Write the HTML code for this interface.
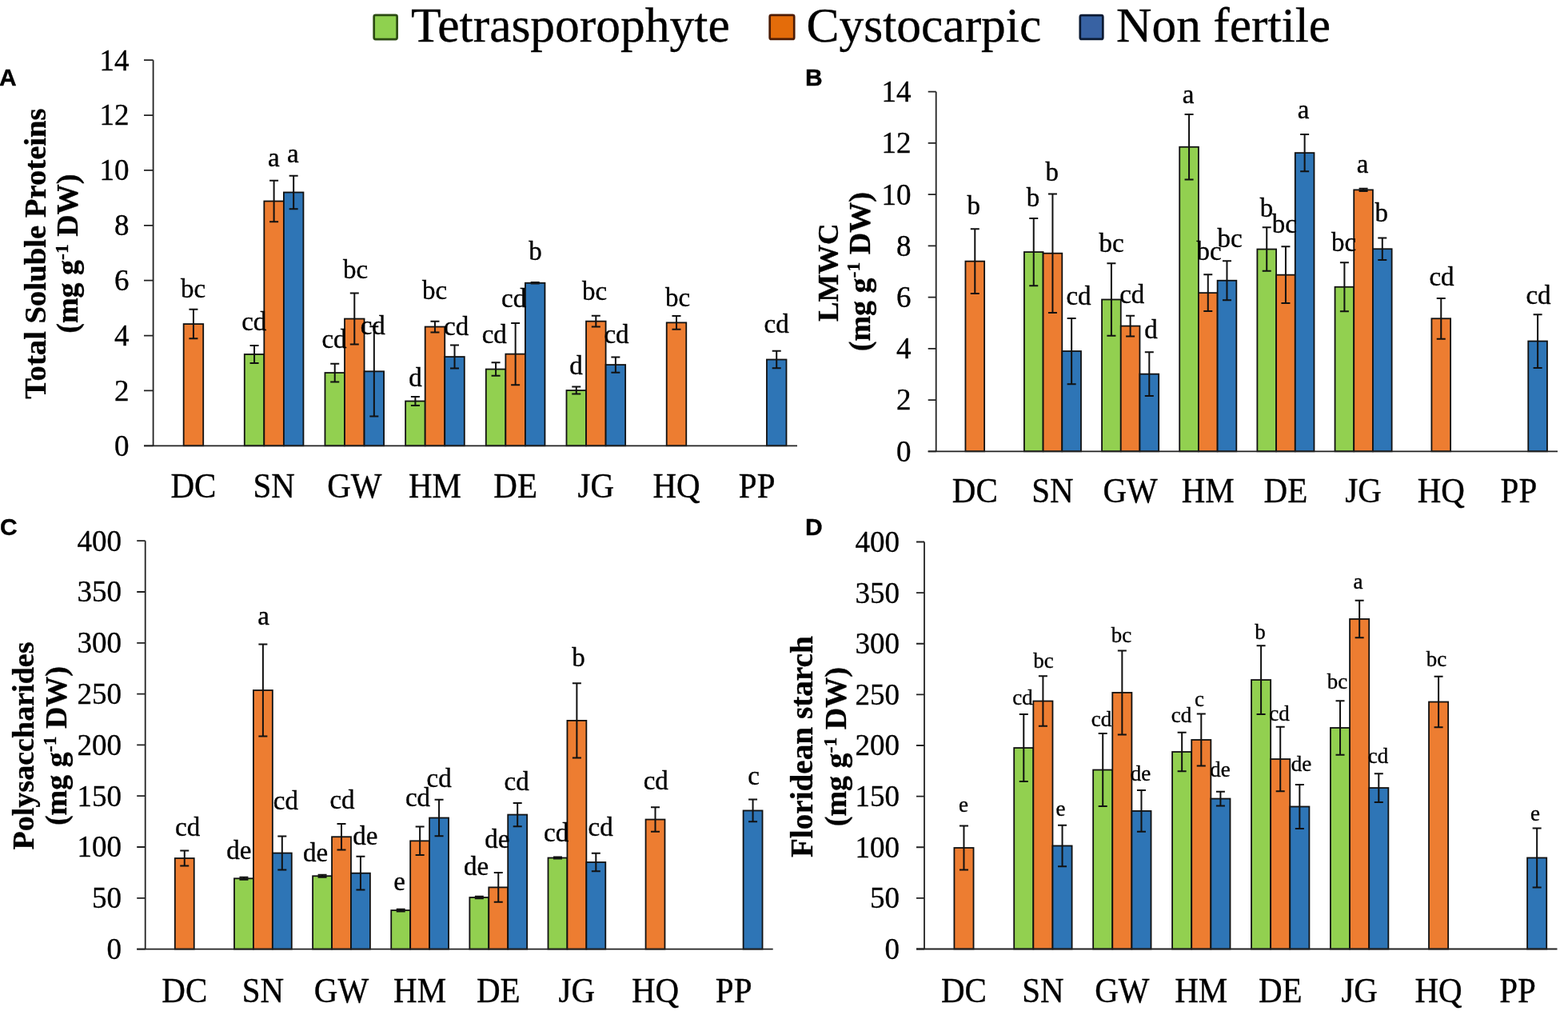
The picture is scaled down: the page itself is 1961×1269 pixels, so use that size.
<!DOCTYPE html>
<html><head><meta charset="utf-8"><title>Figure</title>
<style>
html,body{margin:0;padding:0;background:#fff;}
body{width:1961px;height:1269px;overflow:hidden;}
svg{display:block;}
svg text{fill:#000;stroke:#000;stroke-width:0.35px;}
</style></head><body>
<svg width="1961" height="1269" viewBox="0 0 1961 1269">
<rect width="1961" height="1269" fill="#fff"/>
<rect x="229.66" y="405.09" width="24.55" height="152.21" fill="#ed7d31" stroke="#111" stroke-width="1.8"/>
<rect x="305.78" y="442.97" width="24.55" height="114.33" fill="#92d050" stroke="#111" stroke-width="1.8"/>
<rect x="330.34" y="251.51" width="24.55" height="305.79" fill="#ed7d31" stroke="#111" stroke-width="1.8"/>
<rect x="354.89" y="240.49" width="24.55" height="316.81" fill="#2e75b6" stroke="#111" stroke-width="1.8"/>
<rect x="406.46" y="466.05" width="24.55" height="91.25" fill="#92d050" stroke="#111" stroke-width="1.8"/>
<rect x="431.01" y="398.55" width="24.55" height="158.75" fill="#ed7d31" stroke="#111" stroke-width="1.8"/>
<rect x="455.56" y="464.32" width="24.55" height="92.98" fill="#2e75b6" stroke="#111" stroke-width="1.8"/>
<rect x="507.13" y="501.51" width="24.55" height="55.79" fill="#92d050" stroke="#111" stroke-width="1.8"/>
<rect x="531.69" y="408.54" width="24.55" height="148.76" fill="#ed7d31" stroke="#111" stroke-width="1.8"/>
<rect x="556.24" y="446.07" width="24.55" height="111.23" fill="#2e75b6" stroke="#111" stroke-width="1.8"/>
<rect x="607.81" y="461.57" width="24.55" height="95.73" fill="#92d050" stroke="#111" stroke-width="1.8"/>
<rect x="632.36" y="442.63" width="24.55" height="114.67" fill="#ed7d31" stroke="#111" stroke-width="1.8"/>
<rect x="656.91" y="353.78" width="24.55" height="203.52" fill="#2e75b6" stroke="#111" stroke-width="1.8"/>
<rect x="708.48" y="488.08" width="24.55" height="69.22" fill="#92d050" stroke="#111" stroke-width="1.8"/>
<rect x="733.04" y="401.65" width="24.55" height="155.65" fill="#ed7d31" stroke="#111" stroke-width="1.8"/>
<rect x="757.59" y="456.06" width="24.55" height="101.24" fill="#2e75b6" stroke="#111" stroke-width="1.8"/>
<rect x="833.71" y="403.37" width="24.55" height="153.93" fill="#ed7d31" stroke="#111" stroke-width="1.8"/>
<rect x="958.94" y="449.52" width="24.55" height="107.78" fill="#2e75b6" stroke="#111" stroke-width="1.8"/>
<path d="M241.94 386.84V423.35M236.44 386.84H247.44M236.44 423.35H247.44" stroke="#111" stroke-width="2" fill="none"/>
<path d="M318.06 431.95V453.99M312.56 431.95H323.56M312.56 453.99H323.56" stroke="#111" stroke-width="2" fill="none"/>
<path d="M342.61 225.68V277.34M337.11 225.68H348.11M337.11 277.34H348.11" stroke="#111" stroke-width="2" fill="none"/>
<path d="M367.17 219.83V261.15M361.67 219.83H372.67M361.67 261.15H372.67" stroke="#111" stroke-width="2" fill="none"/>
<path d="M418.73 454.68V477.41M413.23 454.68H424.23M413.23 477.41H424.23" stroke="#111" stroke-width="2" fill="none"/>
<path d="M443.29 366.53V430.58M437.79 366.53H448.79M437.79 430.58H448.79" stroke="#111" stroke-width="2" fill="none"/>
<path d="M467.84 408.19V520.45M462.34 408.19H473.34M462.34 520.45H473.34" stroke="#111" stroke-width="2" fill="none"/>
<path d="M519.41 496.00V507.02M513.91 496.00H524.91M513.91 507.02H524.91" stroke="#111" stroke-width="2" fill="none"/>
<path d="M543.96 401.65V415.42M538.46 401.65H549.46M538.46 415.42H549.46" stroke="#111" stroke-width="2" fill="none"/>
<path d="M568.52 431.61V460.54M563.02 431.61H574.02M563.02 460.54H574.02" stroke="#111" stroke-width="2" fill="none"/>
<path d="M620.08 453.30V469.83M614.58 453.30H625.58M614.58 469.83H625.58" stroke="#111" stroke-width="2" fill="none"/>
<path d="M644.64 404.06V481.20M639.14 404.06H650.14M639.14 481.20H650.14" stroke="#111" stroke-width="2" fill="none"/>
<path d="M669.19 353.10V354.47M663.69 353.10H674.69M663.69 354.47H674.69" stroke="#111" stroke-width="2" fill="none"/>
<path d="M720.76 483.61V492.56M715.26 483.61H726.26M715.26 492.56H726.26" stroke="#111" stroke-width="2" fill="none"/>
<path d="M745.31 394.76V408.54M739.81 394.76H750.81M739.81 408.54H750.81" stroke="#111" stroke-width="2" fill="none"/>
<path d="M769.87 446.42V465.70M764.37 446.42H775.37M764.37 465.70H775.37" stroke="#111" stroke-width="2" fill="none"/>
<path d="M845.99 395.11V411.64M840.49 395.11H851.49M840.49 411.64H851.49" stroke="#111" stroke-width="2" fill="none"/>
<path d="M971.22 438.84V460.19M965.72 438.84H976.72M965.72 460.19H976.72" stroke="#111" stroke-width="2" fill="none"/>
<path d="M191.60 75.20V557.30M180.00 557.30H997.00" stroke="#222" stroke-width="1.8" fill="none"/>
<path d="M180.00 557.30H191.60M180.00 488.43H191.60M180.00 419.56H191.60M180.00 350.69H191.60M180.00 281.81H191.60M180.00 212.94H191.60M180.00 144.07H191.60M180.00 75.20H191.60" stroke="#222" stroke-width="1.8" fill="none"/>
<text x="161.50" y="569.69" font-size="37" text-anchor="end" font-family="'Liberation Serif', 'Times New Roman', serif">0</text>
<text x="161.50" y="500.82" font-size="37" text-anchor="end" font-family="'Liberation Serif', 'Times New Roman', serif">2</text>
<text x="161.50" y="431.95" font-size="37" text-anchor="end" font-family="'Liberation Serif', 'Times New Roman', serif">4</text>
<text x="161.50" y="363.08" font-size="37" text-anchor="end" font-family="'Liberation Serif', 'Times New Roman', serif">6</text>
<text x="161.50" y="294.21" font-size="37" text-anchor="end" font-family="'Liberation Serif', 'Times New Roman', serif">8</text>
<text x="161.50" y="225.34" font-size="37" text-anchor="end" font-family="'Liberation Serif', 'Times New Roman', serif">10</text>
<text x="161.50" y="156.47" font-size="37" text-anchor="end" font-family="'Liberation Serif', 'Times New Roman', serif">12</text>
<text x="161.50" y="87.59" font-size="37" text-anchor="end" font-family="'Liberation Serif', 'Times New Roman', serif">14</text>
<text transform="translate(241.94,622.20) scale(1,1.09)" font-size="41" text-anchor="middle" font-family="'Liberation Serif', 'Times New Roman', serif">DC</text>
<text transform="translate(342.61,622.20) scale(1,1.09)" font-size="41" text-anchor="middle" font-family="'Liberation Serif', 'Times New Roman', serif">SN</text>
<text transform="translate(443.29,622.20) scale(1,1.09)" font-size="41" text-anchor="middle" font-family="'Liberation Serif', 'Times New Roman', serif">GW</text>
<text transform="translate(543.96,622.20) scale(1,1.09)" font-size="41" text-anchor="middle" font-family="'Liberation Serif', 'Times New Roman', serif">HM</text>
<text transform="translate(644.64,622.20) scale(1,1.09)" font-size="41" text-anchor="middle" font-family="'Liberation Serif', 'Times New Roman', serif">DE</text>
<text transform="translate(745.31,622.20) scale(1,1.09)" font-size="41" text-anchor="middle" font-family="'Liberation Serif', 'Times New Roman', serif">JG</text>
<text transform="translate(845.99,622.20) scale(1,1.09)" font-size="41" text-anchor="middle" font-family="'Liberation Serif', 'Times New Roman', serif">HQ</text>
<text transform="translate(946.66,622.20) scale(1,1.09)" font-size="41" text-anchor="middle" font-family="'Liberation Serif', 'Times New Roman', serif">PP</text>
<text x="241.70" y="371.50" font-size="33" text-anchor="middle" font-family="'Liberation Serif', 'Times New Roman', serif">bc</text>
<text x="317.80" y="412.50" font-size="33" text-anchor="middle" font-family="'Liberation Serif', 'Times New Roman', serif">cd</text>
<text x="342.40" y="207.50" font-size="33" text-anchor="middle" font-family="'Liberation Serif', 'Times New Roman', serif">a</text>
<text x="366.40" y="203.40" font-size="33" text-anchor="middle" font-family="'Liberation Serif', 'Times New Roman', serif">a</text>
<text x="418.00" y="435.00" font-size="33" text-anchor="middle" font-family="'Liberation Serif', 'Times New Roman', serif">cd</text>
<text x="444.60" y="348.30" font-size="33" text-anchor="middle" font-family="'Liberation Serif', 'Times New Roman', serif">bc</text>
<text x="466.30" y="418.00" font-size="33" text-anchor="middle" font-family="'Liberation Serif', 'Times New Roman', serif">cd</text>
<text x="519.40" y="482.70" font-size="33" text-anchor="middle" font-family="'Liberation Serif', 'Times New Roman', serif">d</text>
<text x="543.70" y="374.00" font-size="33" text-anchor="middle" font-family="'Liberation Serif', 'Times New Roman', serif">bc</text>
<text x="570.70" y="419.20" font-size="33" text-anchor="middle" font-family="'Liberation Serif', 'Times New Roman', serif">cd</text>
<text x="618.30" y="429.00" font-size="33" text-anchor="middle" font-family="'Liberation Serif', 'Times New Roman', serif">cd</text>
<text x="642.70" y="383.60" font-size="33" text-anchor="middle" font-family="'Liberation Serif', 'Times New Roman', serif">cd</text>
<text x="669.40" y="325.00" font-size="33" text-anchor="middle" font-family="'Liberation Serif', 'Times New Roman', serif">b</text>
<text x="720.40" y="468.00" font-size="33" text-anchor="middle" font-family="'Liberation Serif', 'Times New Roman', serif">d</text>
<text x="743.60" y="375.00" font-size="33" text-anchor="middle" font-family="'Liberation Serif', 'Times New Roman', serif">bc</text>
<text x="771.00" y="429.00" font-size="33" text-anchor="middle" font-family="'Liberation Serif', 'Times New Roman', serif">cd</text>
<text x="847.50" y="382.70" font-size="33" text-anchor="middle" font-family="'Liberation Serif', 'Times New Roman', serif">bc</text>
<text x="971.20" y="415.60" font-size="33" text-anchor="middle" font-family="'Liberation Serif', 'Times New Roman', serif">cd</text>
<text transform="translate(57.00,317.00) rotate(-90)" font-size="38.7" font-weight="bold" text-anchor="middle" font-family="'Liberation Serif', 'Times New Roman', serif">Total Soluble Proteins</text>
<text transform="translate(97.30,317.20) rotate(-90)" font-size="38" font-weight="bold" text-anchor="middle" font-family="'Liberation Serif', 'Times New Roman', serif">(mg g<tspan font-size="23.6" dy="-12.5">-1</tspan><tspan dy="12.5"> DW)</tspan></text>
<text x="-0.90" y="106.80" font-size="30" font-weight="bold" font-family="'Liberation Sans', Arial, sans-serif">A</text>
<rect x="1207.43" y="326.65" width="23.70" height="237.65" fill="#ed7d31" stroke="#111" stroke-width="1.8"/>
<rect x="1280.90" y="315.09" width="23.70" height="249.21" fill="#92d050" stroke="#111" stroke-width="1.8"/>
<rect x="1304.59" y="316.70" width="23.70" height="247.60" fill="#ed7d31" stroke="#111" stroke-width="1.8"/>
<rect x="1328.29" y="439.05" width="23.70" height="125.25" fill="#2e75b6" stroke="#111" stroke-width="1.8"/>
<rect x="1378.06" y="374.50" width="23.70" height="189.80" fill="#92d050" stroke="#111" stroke-width="1.8"/>
<rect x="1401.76" y="407.58" width="23.70" height="156.72" fill="#ed7d31" stroke="#111" stroke-width="1.8"/>
<rect x="1425.46" y="467.64" width="23.70" height="96.66" fill="#2e75b6" stroke="#111" stroke-width="1.8"/>
<rect x="1475.22" y="183.75" width="23.70" height="380.55" fill="#92d050" stroke="#111" stroke-width="1.8"/>
<rect x="1498.92" y="366.15" width="23.70" height="198.15" fill="#ed7d31" stroke="#111" stroke-width="1.8"/>
<rect x="1522.62" y="350.74" width="23.70" height="213.56" fill="#2e75b6" stroke="#111" stroke-width="1.8"/>
<rect x="1572.38" y="311.56" width="23.70" height="252.74" fill="#92d050" stroke="#111" stroke-width="1.8"/>
<rect x="1596.08" y="343.67" width="23.70" height="220.63" fill="#ed7d31" stroke="#111" stroke-width="1.8"/>
<rect x="1619.78" y="191.13" width="23.70" height="373.17" fill="#2e75b6" stroke="#111" stroke-width="1.8"/>
<rect x="1669.55" y="358.77" width="23.70" height="205.53" fill="#92d050" stroke="#111" stroke-width="1.8"/>
<rect x="1693.24" y="237.38" width="23.70" height="326.92" fill="#ed7d31" stroke="#111" stroke-width="1.8"/>
<rect x="1716.94" y="311.24" width="23.70" height="253.06" fill="#2e75b6" stroke="#111" stroke-width="1.8"/>
<rect x="1790.41" y="398.27" width="23.70" height="166.03" fill="#ed7d31" stroke="#111" stroke-width="1.8"/>
<rect x="1911.27" y="426.53" width="23.70" height="137.77" fill="#2e75b6" stroke="#111" stroke-width="1.8"/>
<path d="M1219.28 286.19V367.12M1213.78 286.19H1224.78M1213.78 367.12H1224.78" stroke="#111" stroke-width="2" fill="none"/>
<path d="M1292.75 273.02V357.16M1287.25 273.02H1298.25M1287.25 357.16H1298.25" stroke="#111" stroke-width="2" fill="none"/>
<path d="M1316.44 242.51V390.88M1310.94 242.51H1321.94M1310.94 390.88H1321.94" stroke="#111" stroke-width="2" fill="none"/>
<path d="M1340.14 397.95V480.16M1334.64 397.95H1345.64M1334.64 480.16H1345.64" stroke="#111" stroke-width="2" fill="none"/>
<path d="M1389.91 329.22V419.79M1384.41 329.22H1395.41M1384.41 419.79H1395.41" stroke="#111" stroke-width="2" fill="none"/>
<path d="M1413.61 394.74V420.43M1408.11 394.74H1419.11M1408.11 420.43H1419.11" stroke="#111" stroke-width="2" fill="none"/>
<path d="M1437.30 440.34V494.93M1431.80 440.34H1442.80M1431.80 494.93H1442.80" stroke="#111" stroke-width="2" fill="none"/>
<path d="M1487.07 142.96V224.53M1481.57 142.96H1492.57M1481.57 224.53H1492.57" stroke="#111" stroke-width="2" fill="none"/>
<path d="M1510.77 343.35V388.96M1505.27 343.35H1516.27M1505.27 388.96H1516.27" stroke="#111" stroke-width="2" fill="none"/>
<path d="M1534.47 326.33V375.15M1528.97 326.33H1539.97M1528.97 375.15H1539.97" stroke="#111" stroke-width="2" fill="none"/>
<path d="M1584.23 284.26V338.86M1578.73 284.26H1589.73M1578.73 338.86H1589.73" stroke="#111" stroke-width="2" fill="none"/>
<path d="M1607.93 308.35V379.00M1602.43 308.35H1613.43M1602.43 379.00H1613.43" stroke="#111" stroke-width="2" fill="none"/>
<path d="M1631.63 168.01V214.25M1626.13 168.01H1637.13M1626.13 214.25H1637.13" stroke="#111" stroke-width="2" fill="none"/>
<path d="M1681.40 328.26V389.28M1675.90 328.26H1686.90M1675.90 389.28H1686.90" stroke="#111" stroke-width="2" fill="none"/>
<path d="M1705.09 235.77V238.98M1699.59 235.77H1710.59M1699.59 238.98H1710.59" stroke="#111" stroke-width="2" fill="none"/>
<path d="M1728.79 297.43V325.05M1723.29 297.43H1734.29M1723.29 325.05H1734.29" stroke="#111" stroke-width="2" fill="none"/>
<path d="M1802.26 372.90V423.64M1796.76 372.90H1807.76M1796.76 423.64H1807.76" stroke="#111" stroke-width="2" fill="none"/>
<path d="M1923.12 393.13V459.93M1917.62 393.13H1928.62M1917.62 459.93H1928.62" stroke="#111" stroke-width="2" fill="none"/>
<path d="M1170.70 114.70V564.30M1160.70 564.30H1948.00" stroke="#222" stroke-width="1.8" fill="none"/>
<path d="M1160.70 564.30H1170.70M1160.70 500.07H1170.70M1160.70 435.84H1170.70M1160.70 371.61H1170.70M1160.70 307.39H1170.70M1160.70 243.16H1170.70M1160.70 178.93H1170.70M1160.70 114.70H1170.70" stroke="#222" stroke-width="1.8" fill="none"/>
<text x="1139.50" y="576.69" font-size="37" text-anchor="end" font-family="'Liberation Serif', 'Times New Roman', serif">0</text>
<text x="1139.50" y="512.47" font-size="37" text-anchor="end" font-family="'Liberation Serif', 'Times New Roman', serif">2</text>
<text x="1139.50" y="448.24" font-size="37" text-anchor="end" font-family="'Liberation Serif', 'Times New Roman', serif">4</text>
<text x="1139.50" y="384.01" font-size="37" text-anchor="end" font-family="'Liberation Serif', 'Times New Roman', serif">6</text>
<text x="1139.50" y="319.78" font-size="37" text-anchor="end" font-family="'Liberation Serif', 'Times New Roman', serif">8</text>
<text x="1139.50" y="255.55" font-size="37" text-anchor="end" font-family="'Liberation Serif', 'Times New Roman', serif">10</text>
<text x="1139.50" y="191.32" font-size="37" text-anchor="end" font-family="'Liberation Serif', 'Times New Roman', serif">12</text>
<text x="1139.50" y="127.09" font-size="37" text-anchor="end" font-family="'Liberation Serif', 'Times New Roman', serif">14</text>
<text transform="translate(1219.28,628.30) scale(1,1.09)" font-size="41" text-anchor="middle" font-family="'Liberation Serif', 'Times New Roman', serif">DC</text>
<text transform="translate(1316.44,628.30) scale(1,1.09)" font-size="41" text-anchor="middle" font-family="'Liberation Serif', 'Times New Roman', serif">SN</text>
<text transform="translate(1413.61,628.30) scale(1,1.09)" font-size="41" text-anchor="middle" font-family="'Liberation Serif', 'Times New Roman', serif">GW</text>
<text transform="translate(1510.77,628.30) scale(1,1.09)" font-size="41" text-anchor="middle" font-family="'Liberation Serif', 'Times New Roman', serif">HM</text>
<text transform="translate(1607.93,628.30) scale(1,1.09)" font-size="41" text-anchor="middle" font-family="'Liberation Serif', 'Times New Roman', serif">DE</text>
<text transform="translate(1705.09,628.30) scale(1,1.09)" font-size="41" text-anchor="middle" font-family="'Liberation Serif', 'Times New Roman', serif">JG</text>
<text transform="translate(1802.26,628.30) scale(1,1.09)" font-size="41" text-anchor="middle" font-family="'Liberation Serif', 'Times New Roman', serif">HQ</text>
<text transform="translate(1899.42,628.30) scale(1,1.09)" font-size="41" text-anchor="middle" font-family="'Liberation Serif', 'Times New Roman', serif">PP</text>
<text x="1217.80" y="268.00" font-size="33" text-anchor="middle" font-family="'Liberation Serif', 'Times New Roman', serif">b</text>
<text x="1292.00" y="258.00" font-size="33" text-anchor="middle" font-family="'Liberation Serif', 'Times New Roman', serif">b</text>
<text x="1315.80" y="226.00" font-size="33" text-anchor="middle" font-family="'Liberation Serif', 'Times New Roman', serif">b</text>
<text x="1349.00" y="381.00" font-size="33" text-anchor="middle" font-family="'Liberation Serif', 'Times New Roman', serif">cd</text>
<text x="1390.00" y="315.00" font-size="33" text-anchor="middle" font-family="'Liberation Serif', 'Times New Roman', serif">bc</text>
<text x="1415.80" y="378.60" font-size="33" text-anchor="middle" font-family="'Liberation Serif', 'Times New Roman', serif">cd</text>
<text x="1439.60" y="422.60" font-size="33" text-anchor="middle" font-family="'Liberation Serif', 'Times New Roman', serif">d</text>
<text x="1486.00" y="128.50" font-size="33" text-anchor="middle" font-family="'Liberation Serif', 'Times New Roman', serif">a</text>
<text x="1512.00" y="325.00" font-size="33" text-anchor="middle" font-family="'Liberation Serif', 'Times New Roman', serif">bc</text>
<text x="1538.00" y="308.70" font-size="33" text-anchor="middle" font-family="'Liberation Serif', 'Times New Roman', serif">bc</text>
<text x="1584.00" y="270.60" font-size="33" text-anchor="middle" font-family="'Liberation Serif', 'Times New Roman', serif">b</text>
<text x="1606.40" y="291.40" font-size="33" text-anchor="middle" font-family="'Liberation Serif', 'Times New Roman', serif">bc</text>
<text x="1630.00" y="148.30" font-size="33" text-anchor="middle" font-family="'Liberation Serif', 'Times New Roman', serif">a</text>
<text x="1680.70" y="313.70" font-size="33" text-anchor="middle" font-family="'Liberation Serif', 'Times New Roman', serif">bc</text>
<text x="1704.00" y="216.00" font-size="33" text-anchor="middle" font-family="'Liberation Serif', 'Times New Roman', serif">a</text>
<text x="1727.70" y="277.00" font-size="33" text-anchor="middle" font-family="'Liberation Serif', 'Times New Roman', serif">b</text>
<text x="1803.00" y="357.00" font-size="33" text-anchor="middle" font-family="'Liberation Serif', 'Times New Roman', serif">cd</text>
<text x="1924.00" y="379.50" font-size="33" text-anchor="middle" font-family="'Liberation Serif', 'Times New Roman', serif">cd</text>
<text transform="translate(1047.50,340.70) rotate(-90)" font-size="36.8" font-weight="bold" text-anchor="middle" font-family="'Liberation Serif', 'Times New Roman', serif">LMWC</text>
<text transform="translate(1087.50,339.70) rotate(-90)" font-size="38" font-weight="bold" text-anchor="middle" font-family="'Liberation Serif', 'Times New Roman', serif">(mg g<tspan font-size="23.6" dy="-12.5">-1</tspan><tspan dy="12.5"> DW)</tspan></text>
<text x="1007.00" y="107.00" font-size="30" font-weight="bold" font-family="'Liberation Sans', Arial, sans-serif">B</text>
<rect x="218.80" y="1073.04" width="23.93" height="113.56" fill="#ed7d31" stroke="#111" stroke-width="1.8"/>
<rect x="292.99" y="1098.30" width="23.93" height="88.30" fill="#92d050" stroke="#111" stroke-width="1.8"/>
<rect x="316.92" y="863.01" width="23.93" height="323.59" fill="#ed7d31" stroke="#111" stroke-width="1.8"/>
<rect x="340.85" y="1066.53" width="23.93" height="120.07" fill="#2e75b6" stroke="#111" stroke-width="1.8"/>
<rect x="391.11" y="1095.24" width="23.93" height="91.36" fill="#92d050" stroke="#111" stroke-width="1.8"/>
<rect x="415.05" y="1046.24" width="23.93" height="140.36" fill="#ed7d31" stroke="#111" stroke-width="1.8"/>
<rect x="438.98" y="1091.67" width="23.93" height="94.93" fill="#2e75b6" stroke="#111" stroke-width="1.8"/>
<rect x="489.24" y="1138.11" width="23.93" height="48.49" fill="#92d050" stroke="#111" stroke-width="1.8"/>
<rect x="513.17" y="1051.34" width="23.93" height="135.26" fill="#ed7d31" stroke="#111" stroke-width="1.8"/>
<rect x="537.10" y="1022.51" width="23.93" height="164.09" fill="#2e75b6" stroke="#111" stroke-width="1.8"/>
<rect x="587.36" y="1122.03" width="23.93" height="64.57" fill="#92d050" stroke="#111" stroke-width="1.8"/>
<rect x="611.30" y="1109.40" width="23.93" height="77.20" fill="#ed7d31" stroke="#111" stroke-width="1.8"/>
<rect x="635.23" y="1018.55" width="23.93" height="168.05" fill="#2e75b6" stroke="#111" stroke-width="1.8"/>
<rect x="685.49" y="1072.53" width="23.93" height="114.07" fill="#92d050" stroke="#111" stroke-width="1.8"/>
<rect x="709.42" y="900.90" width="23.93" height="285.70" fill="#ed7d31" stroke="#111" stroke-width="1.8"/>
<rect x="733.35" y="1078.01" width="23.93" height="108.59" fill="#2e75b6" stroke="#111" stroke-width="1.8"/>
<rect x="807.55" y="1024.55" width="23.93" height="162.05" fill="#ed7d31" stroke="#111" stroke-width="1.8"/>
<rect x="929.60" y="1013.45" width="23.93" height="173.15" fill="#2e75b6" stroke="#111" stroke-width="1.8"/>
<path d="M230.76 1063.59V1082.48M225.26 1063.59H236.26M225.26 1082.48H236.26" stroke="#111" stroke-width="2" fill="none"/>
<path d="M304.95 1096.77V1099.83M299.45 1096.77H310.45M299.45 1099.83H310.45" stroke="#111" stroke-width="2" fill="none"/>
<path d="M328.89 805.59V920.43M323.39 805.59H334.39M323.39 920.43H334.39" stroke="#111" stroke-width="2" fill="none"/>
<path d="M352.82 1045.47V1087.58M347.32 1045.47H358.32M347.32 1087.58H358.32" stroke="#111" stroke-width="2" fill="none"/>
<path d="M403.08 1093.71V1096.77M397.58 1093.71H408.58M397.58 1096.77H408.58" stroke="#111" stroke-width="2" fill="none"/>
<path d="M427.01 1029.91V1062.57M421.51 1029.91H432.51M421.51 1062.57H432.51" stroke="#111" stroke-width="2" fill="none"/>
<path d="M450.95 1070.87V1112.46M445.45 1070.87H456.45M445.45 1112.46H456.45" stroke="#111" stroke-width="2" fill="none"/>
<path d="M501.20 1136.84V1139.39M495.70 1136.84H506.70M495.70 1139.39H506.70" stroke="#111" stroke-width="2" fill="none"/>
<path d="M525.14 1033.61V1069.08M519.64 1033.61H530.64M519.64 1069.08H530.64" stroke="#111" stroke-width="2" fill="none"/>
<path d="M549.07 999.79V1045.22M543.57 999.79H554.57M543.57 1045.22H554.57" stroke="#111" stroke-width="2" fill="none"/>
<path d="M599.33 1120.76V1123.31M593.83 1120.76H604.83M593.83 1123.31H604.83" stroke="#111" stroke-width="2" fill="none"/>
<path d="M623.26 1091.03V1127.78M617.76 1091.03H628.76M617.76 1127.78H628.76" stroke="#111" stroke-width="2" fill="none"/>
<path d="M647.20 1003.88V1033.22M641.70 1003.88H652.70M641.70 1033.22H652.70" stroke="#111" stroke-width="2" fill="none"/>
<path d="M697.45 1071.50V1073.55M691.95 1071.50H702.95M691.95 1073.55H702.95" stroke="#111" stroke-width="2" fill="none"/>
<path d="M721.39 854.33V947.48M715.89 854.33H726.89M715.89 947.48H726.89" stroke="#111" stroke-width="2" fill="none"/>
<path d="M745.32 1066.66V1089.37M739.82 1066.66H750.82M739.82 1089.37H750.82" stroke="#111" stroke-width="2" fill="none"/>
<path d="M819.51 1009.36V1039.73M814.01 1009.36H825.01M814.01 1039.73H825.01" stroke="#111" stroke-width="2" fill="none"/>
<path d="M941.57 999.54V1027.36M936.07 999.54H947.07M936.07 1027.36H947.07" stroke="#111" stroke-width="2" fill="none"/>
<path d="M181.70 676.20V1186.60M171.20 1186.60H966.70" stroke="#222" stroke-width="1.8" fill="none"/>
<path d="M171.20 1186.60H181.70M171.20 1122.80H181.70M171.20 1059.00H181.70M171.20 995.20H181.70M171.20 931.40H181.70M171.20 867.60H181.70M171.20 803.80H181.70M171.20 740.00H181.70M171.20 676.20H181.70" stroke="#222" stroke-width="1.8" fill="none"/>
<text x="152.00" y="1198.99" font-size="37" text-anchor="end" font-family="'Liberation Serif', 'Times New Roman', serif">0</text>
<text x="152.00" y="1135.19" font-size="37" text-anchor="end" font-family="'Liberation Serif', 'Times New Roman', serif">50</text>
<text x="152.00" y="1071.39" font-size="37" text-anchor="end" font-family="'Liberation Serif', 'Times New Roman', serif">100</text>
<text x="152.00" y="1007.59" font-size="37" text-anchor="end" font-family="'Liberation Serif', 'Times New Roman', serif">150</text>
<text x="152.00" y="943.79" font-size="37" text-anchor="end" font-family="'Liberation Serif', 'Times New Roman', serif">200</text>
<text x="152.00" y="880.00" font-size="37" text-anchor="end" font-family="'Liberation Serif', 'Times New Roman', serif">250</text>
<text x="152.00" y="816.19" font-size="37" text-anchor="end" font-family="'Liberation Serif', 'Times New Roman', serif">300</text>
<text x="152.00" y="752.39" font-size="37" text-anchor="end" font-family="'Liberation Serif', 'Times New Roman', serif">350</text>
<text x="152.00" y="688.60" font-size="37" text-anchor="end" font-family="'Liberation Serif', 'Times New Roman', serif">400</text>
<text transform="translate(230.76,1252.80) scale(1,1.09)" font-size="41" text-anchor="middle" font-family="'Liberation Serif', 'Times New Roman', serif">DC</text>
<text transform="translate(328.89,1252.80) scale(1,1.09)" font-size="41" text-anchor="middle" font-family="'Liberation Serif', 'Times New Roman', serif">SN</text>
<text transform="translate(427.01,1252.80) scale(1,1.09)" font-size="41" text-anchor="middle" font-family="'Liberation Serif', 'Times New Roman', serif">GW</text>
<text transform="translate(525.14,1252.80) scale(1,1.09)" font-size="41" text-anchor="middle" font-family="'Liberation Serif', 'Times New Roman', serif">HM</text>
<text transform="translate(623.26,1252.80) scale(1,1.09)" font-size="41" text-anchor="middle" font-family="'Liberation Serif', 'Times New Roman', serif">DE</text>
<text transform="translate(721.39,1252.80) scale(1,1.09)" font-size="41" text-anchor="middle" font-family="'Liberation Serif', 'Times New Roman', serif">JG</text>
<text transform="translate(819.51,1252.80) scale(1,1.09)" font-size="41" text-anchor="middle" font-family="'Liberation Serif', 'Times New Roman', serif">HQ</text>
<text transform="translate(917.64,1252.80) scale(1,1.09)" font-size="41" text-anchor="middle" font-family="'Liberation Serif', 'Times New Roman', serif">PP</text>
<text x="234.70" y="1045.30" font-size="33" text-anchor="middle" font-family="'Liberation Serif', 'Times New Roman', serif">cd</text>
<text x="298.80" y="1074.00" font-size="33" text-anchor="middle" font-family="'Liberation Serif', 'Times New Roman', serif">de</text>
<text x="329.60" y="781.20" font-size="33" text-anchor="middle" font-family="'Liberation Serif', 'Times New Roman', serif">a</text>
<text x="357.40" y="1012.40" font-size="33" text-anchor="middle" font-family="'Liberation Serif', 'Times New Roman', serif">cd</text>
<text x="394.70" y="1076.50" font-size="33" text-anchor="middle" font-family="'Liberation Serif', 'Times New Roman', serif">de</text>
<text x="428.00" y="1011.00" font-size="33" text-anchor="middle" font-family="'Liberation Serif', 'Times New Roman', serif">cd</text>
<text x="456.80" y="1056.40" font-size="33" text-anchor="middle" font-family="'Liberation Serif', 'Times New Roman', serif">de</text>
<text x="499.70" y="1113.40" font-size="33" text-anchor="middle" font-family="'Liberation Serif', 'Times New Roman', serif">e</text>
<text x="522.50" y="1008.40" font-size="33" text-anchor="middle" font-family="'Liberation Serif', 'Times New Roman', serif">cd</text>
<text x="549.20" y="984.20" font-size="33" text-anchor="middle" font-family="'Liberation Serif', 'Times New Roman', serif">cd</text>
<text x="595.70" y="1094.20" font-size="33" text-anchor="middle" font-family="'Liberation Serif', 'Times New Roman', serif">de</text>
<text x="621.90" y="1059.90" font-size="33" text-anchor="middle" font-family="'Liberation Serif', 'Times New Roman', serif">de</text>
<text x="646.10" y="988.20" font-size="33" text-anchor="middle" font-family="'Liberation Serif', 'Times New Roman', serif">cd</text>
<text x="695.60" y="1052.30" font-size="33" text-anchor="middle" font-family="'Liberation Serif', 'Times New Roman', serif">cd</text>
<text x="723.40" y="832.70" font-size="33" text-anchor="middle" font-family="'Liberation Serif', 'Times New Roman', serif">b</text>
<text x="751.10" y="1044.80" font-size="33" text-anchor="middle" font-family="'Liberation Serif', 'Times New Roman', serif">cd</text>
<text x="820.30" y="987.20" font-size="33" text-anchor="middle" font-family="'Liberation Serif', 'Times New Roman', serif">cd</text>
<text x="942.50" y="980.60" font-size="33" text-anchor="middle" font-family="'Liberation Serif', 'Times New Roman', serif">c</text>
<text transform="translate(41.50,932.50) rotate(-90)" font-size="38.1" font-weight="bold" text-anchor="middle" font-family="'Liberation Serif', 'Times New Roman', serif">Polysaccharides</text>
<text transform="translate(82.50,932.50) rotate(-90)" font-size="38" font-weight="bold" text-anchor="middle" font-family="'Liberation Serif', 'Times New Roman', serif">(mg g<tspan font-size="23.6" dy="-12.5">-1</tspan><tspan dy="12.5"> DW)</tspan></text>
<text x="0.00" y="668.80" font-size="30" font-weight="bold" font-family="'Liberation Sans', Arial, sans-serif">C</text>
<rect x="1193.40" y="1060.01" width="24.13" height="126.49" fill="#ed7d31" stroke="#111" stroke-width="1.8"/>
<rect x="1268.21" y="935.05" width="24.13" height="251.45" fill="#92d050" stroke="#111" stroke-width="1.8"/>
<rect x="1292.34" y="876.52" width="24.13" height="309.98" fill="#ed7d31" stroke="#111" stroke-width="1.8"/>
<rect x="1316.47" y="1057.47" width="24.13" height="129.03" fill="#2e75b6" stroke="#111" stroke-width="1.8"/>
<rect x="1367.15" y="962.54" width="24.13" height="223.96" fill="#92d050" stroke="#111" stroke-width="1.8"/>
<rect x="1391.28" y="865.96" width="24.13" height="320.54" fill="#ed7d31" stroke="#111" stroke-width="1.8"/>
<rect x="1415.41" y="1013.95" width="24.13" height="172.55" fill="#2e75b6" stroke="#111" stroke-width="1.8"/>
<rect x="1466.08" y="940.02" width="24.13" height="246.48" fill="#92d050" stroke="#111" stroke-width="1.8"/>
<rect x="1490.22" y="925.00" width="24.13" height="261.50" fill="#ed7d31" stroke="#111" stroke-width="1.8"/>
<rect x="1514.35" y="998.55" width="24.13" height="187.95" fill="#2e75b6" stroke="#111" stroke-width="1.8"/>
<rect x="1565.02" y="850.05" width="24.13" height="336.45" fill="#92d050" stroke="#111" stroke-width="1.8"/>
<rect x="1589.15" y="949.05" width="24.13" height="237.45" fill="#ed7d31" stroke="#111" stroke-width="1.8"/>
<rect x="1613.28" y="1008.48" width="24.13" height="178.02" fill="#2e75b6" stroke="#111" stroke-width="1.8"/>
<rect x="1663.96" y="909.99" width="24.13" height="276.51" fill="#92d050" stroke="#111" stroke-width="1.8"/>
<rect x="1688.09" y="773.96" width="24.13" height="412.54" fill="#ed7d31" stroke="#111" stroke-width="1.8"/>
<rect x="1712.22" y="985.06" width="24.13" height="201.44" fill="#2e75b6" stroke="#111" stroke-width="1.8"/>
<rect x="1787.03" y="877.54" width="24.13" height="308.96" fill="#ed7d31" stroke="#111" stroke-width="1.8"/>
<rect x="1910.10" y="1072.48" width="24.13" height="114.02" fill="#2e75b6" stroke="#111" stroke-width="1.8"/>
<path d="M1205.47 1032.53V1087.50M1199.97 1032.53H1210.97M1199.97 1087.50H1210.97" stroke="#111" stroke-width="2" fill="none"/>
<path d="M1280.28 893.06V977.05M1274.78 893.06H1285.78M1274.78 977.05H1285.78" stroke="#111" stroke-width="2" fill="none"/>
<path d="M1304.41 845.34V907.70M1298.91 845.34H1309.91M1298.91 907.70H1309.91" stroke="#111" stroke-width="2" fill="none"/>
<path d="M1328.54 1031.64V1083.30M1323.04 1031.64H1334.04M1323.04 1083.30H1334.04" stroke="#111" stroke-width="2" fill="none"/>
<path d="M1379.21 917.11V1007.97M1373.71 917.11H1384.71M1373.71 1007.97H1384.71" stroke="#111" stroke-width="2" fill="none"/>
<path d="M1403.34 813.40V918.51M1397.84 813.40H1408.84M1397.84 918.51H1408.84" stroke="#111" stroke-width="2" fill="none"/>
<path d="M1427.47 988.12V1039.78M1421.97 988.12H1432.97M1421.97 1039.78H1432.97" stroke="#111" stroke-width="2" fill="none"/>
<path d="M1478.15 915.84V964.19M1472.65 915.84H1483.65M1472.65 964.19H1483.65" stroke="#111" stroke-width="2" fill="none"/>
<path d="M1502.28 892.55V957.45M1496.78 892.55H1507.78M1496.78 957.45H1507.78" stroke="#111" stroke-width="2" fill="none"/>
<path d="M1526.41 989.64V1007.46M1520.91 989.64H1531.91M1520.91 1007.46H1531.91" stroke="#111" stroke-width="2" fill="none"/>
<path d="M1577.09 807.17V892.93M1571.59 807.17H1582.59M1571.59 892.93H1582.59" stroke="#111" stroke-width="2" fill="none"/>
<path d="M1601.22 908.84V989.26M1595.72 908.84H1606.72M1595.72 989.26H1606.72" stroke="#111" stroke-width="2" fill="none"/>
<path d="M1625.35 980.99V1035.96M1619.85 980.99H1630.85M1619.85 1035.96H1630.85" stroke="#111" stroke-width="2" fill="none"/>
<path d="M1676.03 876.26V943.71M1670.53 876.26H1681.53M1670.53 943.71H1681.53" stroke="#111" stroke-width="2" fill="none"/>
<path d="M1700.16 750.67V797.24M1694.66 750.67H1705.66M1694.66 797.24H1705.66" stroke="#111" stroke-width="2" fill="none"/>
<path d="M1724.29 967.25V1002.88M1718.79 967.25H1729.79M1718.79 1002.88H1729.79" stroke="#111" stroke-width="2" fill="none"/>
<path d="M1799.09 845.72V909.35M1793.59 845.72H1804.59M1793.59 909.35H1804.59" stroke="#111" stroke-width="2" fill="none"/>
<path d="M1922.16 1035.58V1109.39M1916.66 1035.58H1927.66M1916.66 1109.39H1927.66" stroke="#111" stroke-width="2" fill="none"/>
<path d="M1156.00 677.50V1186.50M1146.00 1186.50H1947.50" stroke="#222" stroke-width="1.8" fill="none"/>
<path d="M1146.00 1186.50H1156.00M1146.00 1122.88H1156.00M1146.00 1059.25H1156.00M1146.00 995.62H1156.00M1146.00 932.00H1156.00M1146.00 868.38H1156.00M1146.00 804.75H1156.00M1146.00 741.12H1156.00M1146.00 677.50H1156.00" stroke="#222" stroke-width="1.8" fill="none"/>
<text x="1125.00" y="1198.89" font-size="37" text-anchor="end" font-family="'Liberation Serif', 'Times New Roman', serif">0</text>
<text x="1125.00" y="1135.27" font-size="37" text-anchor="end" font-family="'Liberation Serif', 'Times New Roman', serif">50</text>
<text x="1125.00" y="1071.64" font-size="37" text-anchor="end" font-family="'Liberation Serif', 'Times New Roman', serif">100</text>
<text x="1125.00" y="1008.02" font-size="37" text-anchor="end" font-family="'Liberation Serif', 'Times New Roman', serif">150</text>
<text x="1125.00" y="944.39" font-size="37" text-anchor="end" font-family="'Liberation Serif', 'Times New Roman', serif">200</text>
<text x="1125.00" y="880.77" font-size="37" text-anchor="end" font-family="'Liberation Serif', 'Times New Roman', serif">250</text>
<text x="1125.00" y="817.14" font-size="37" text-anchor="end" font-family="'Liberation Serif', 'Times New Roman', serif">300</text>
<text x="1125.00" y="753.52" font-size="37" text-anchor="end" font-family="'Liberation Serif', 'Times New Roman', serif">350</text>
<text x="1125.00" y="689.89" font-size="37" text-anchor="end" font-family="'Liberation Serif', 'Times New Roman', serif">400</text>
<text transform="translate(1205.47,1252.80) scale(1,1.09)" font-size="41" text-anchor="middle" font-family="'Liberation Serif', 'Times New Roman', serif">DC</text>
<text transform="translate(1304.41,1252.80) scale(1,1.09)" font-size="41" text-anchor="middle" font-family="'Liberation Serif', 'Times New Roman', serif">SN</text>
<text transform="translate(1403.34,1252.80) scale(1,1.09)" font-size="41" text-anchor="middle" font-family="'Liberation Serif', 'Times New Roman', serif">GW</text>
<text transform="translate(1502.28,1252.80) scale(1,1.09)" font-size="41" text-anchor="middle" font-family="'Liberation Serif', 'Times New Roman', serif">HM</text>
<text transform="translate(1601.22,1252.80) scale(1,1.09)" font-size="41" text-anchor="middle" font-family="'Liberation Serif', 'Times New Roman', serif">DE</text>
<text transform="translate(1700.16,1252.80) scale(1,1.09)" font-size="41" text-anchor="middle" font-family="'Liberation Serif', 'Times New Roman', serif">JG</text>
<text transform="translate(1799.09,1252.80) scale(1,1.09)" font-size="41" text-anchor="middle" font-family="'Liberation Serif', 'Times New Roman', serif">HQ</text>
<text transform="translate(1898.03,1252.80) scale(1,1.09)" font-size="41" text-anchor="middle" font-family="'Liberation Serif', 'Times New Roman', serif">PP</text>
<text x="1205.00" y="1015.00" font-size="27" text-anchor="middle" font-family="'Liberation Serif', 'Times New Roman', serif">e</text>
<text x="1279.00" y="881.00" font-size="27" text-anchor="middle" font-family="'Liberation Serif', 'Times New Roman', serif">cd</text>
<text x="1305.00" y="835.00" font-size="27" text-anchor="middle" font-family="'Liberation Serif', 'Times New Roman', serif">bc</text>
<text x="1326.50" y="1020.00" font-size="27" text-anchor="middle" font-family="'Liberation Serif', 'Times New Roman', serif">e</text>
<text x="1377.50" y="907.50" font-size="27" text-anchor="middle" font-family="'Liberation Serif', 'Times New Roman', serif">cd</text>
<text x="1402.50" y="802.50" font-size="27" text-anchor="middle" font-family="'Liberation Serif', 'Times New Roman', serif">bc</text>
<text x="1426.50" y="976.00" font-size="27" text-anchor="middle" font-family="'Liberation Serif', 'Times New Roman', serif">de</text>
<text x="1477.50" y="902.50" font-size="27" text-anchor="middle" font-family="'Liberation Serif', 'Times New Roman', serif">cd</text>
<text x="1500.00" y="882.50" font-size="27" text-anchor="middle" font-family="'Liberation Serif', 'Times New Roman', serif">c</text>
<text x="1526.00" y="971.00" font-size="27" text-anchor="middle" font-family="'Liberation Serif', 'Times New Roman', serif">de</text>
<text x="1576.00" y="799.00" font-size="27" text-anchor="middle" font-family="'Liberation Serif', 'Times New Roman', serif">b</text>
<text x="1600.00" y="901.00" font-size="27" text-anchor="middle" font-family="'Liberation Serif', 'Times New Roman', serif">cd</text>
<text x="1627.50" y="964.00" font-size="27" text-anchor="middle" font-family="'Liberation Serif', 'Times New Roman', serif">de</text>
<text x="1672.50" y="861.00" font-size="27" text-anchor="middle" font-family="'Liberation Serif', 'Times New Roman', serif">bc</text>
<text x="1698.50" y="736.00" font-size="27" text-anchor="middle" font-family="'Liberation Serif', 'Times New Roman', serif">a</text>
<text x="1723.50" y="954.00" font-size="27" text-anchor="middle" font-family="'Liberation Serif', 'Times New Roman', serif">cd</text>
<text x="1796.50" y="832.50" font-size="27" text-anchor="middle" font-family="'Liberation Serif', 'Times New Roman', serif">bc</text>
<text x="1920.00" y="1026.00" font-size="27" text-anchor="middle" font-family="'Liberation Serif', 'Times New Roman', serif">e</text>
<text transform="translate(1016.00,933.70) rotate(-90)" font-size="39.2" font-weight="bold" text-anchor="middle" font-family="'Liberation Serif', 'Times New Roman', serif">Floridean starch</text>
<text transform="translate(1058.00,933.70) rotate(-90)" font-size="38" font-weight="bold" text-anchor="middle" font-family="'Liberation Serif', 'Times New Roman', serif">(mg g<tspan font-size="23.6" dy="-12.5">-1</tspan><tspan dy="12.5"> DW)</tspan></text>
<text x="1007.00" y="669.00" font-size="30" font-weight="bold" font-family="'Liberation Sans', Arial, sans-serif">D</text>
<rect x="467.7" y="18.8" width="28.9" height="30.3" fill="#8fd14f" stroke="#2b4a12" stroke-width="2.7" rx="2"/>
<text x="514" y="51.5" font-size="61.5" font-family="'Liberation Serif', 'Times New Roman', serif">Tetrasporophyte</text>
<rect x="962.7" y="18.8" width="30.5" height="30.1" fill="#e46c0a" stroke="#4d1c05" stroke-width="2.7" rx="2"/>
<text x="1008.5" y="51.5" font-size="61.5" font-family="'Liberation Serif', 'Times New Roman', serif">Cystocarpic</text>
<rect x="1350.8" y="19.2" width="28.5" height="29.7" fill="#3862a3" stroke="#0b1a33" stroke-width="2.7" rx="2"/>
<text x="1396" y="51.5" font-size="61.5" font-family="'Liberation Serif', 'Times New Roman', serif">Non fertile</text>
</svg>
</body></html>
